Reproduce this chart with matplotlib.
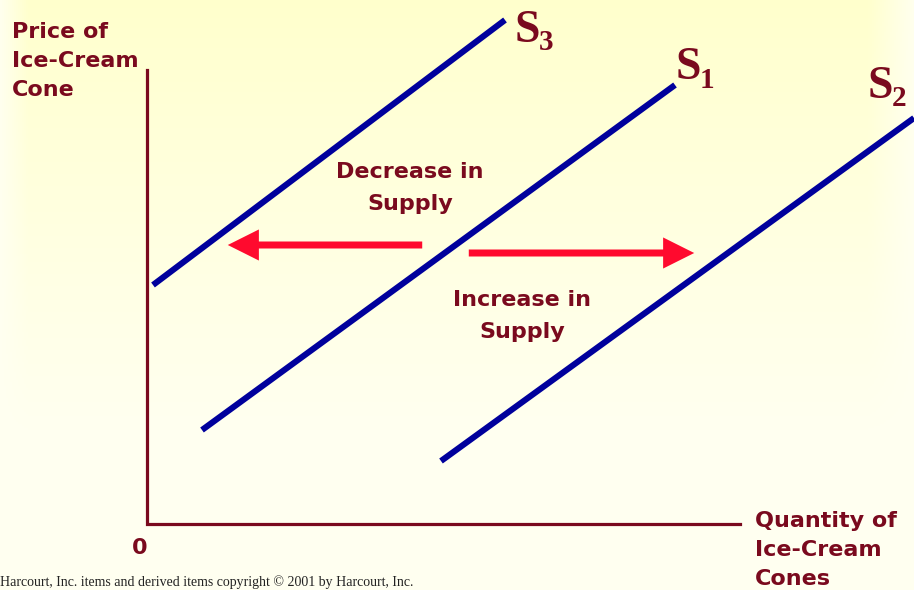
import numpy as np
import matplotlib.pyplot as plt
from matplotlib.patches import FancyArrowPatch

# supply curves: (quantity, price) end points, origin at the axis corner
s3_x = [6, 358]
s3_y = [239, 504]
s1_x = [55, 528]
s1_y = [94, 439]
s2_x = [294, 767]
s2_y = [63, 406]
curve_names = ['3', '1', '2']
label_pos = [(368, 493), (529, 456), (721, 437)]

# shift arrows (start, end) along the quantity axis
decrease_x = [278, 78]
decrease_y = 279
increase_x = [319, 550]
increase_y = 271

axis_x_end = 593
axis_y_end = 454

blue = '#00009c'
maroon = '#7a0a1e'
red = '#ff0a2e'

fig = plt.figure(figsize=(9.14, 5.90), dpi=100)
ax = fig.add_axes([0, 0, 1, 1])
ax.set_xlim(-147, 767)
ax.set_ylim(-66, 524)
ax.axis('off')

# background gradient: yellow at top, cream at bottom, lighter at the side edges
h, w = 295, 457
t = np.linspace(0, 1, h)[:, None]
u = np.linspace(0, 1, w)[None, :]
top = np.array([1.0, 1.0, 0.80])
bot = np.array([1.0, 1.0, 0.945])
k = np.clip(t / 0.75, 0, 1) ** 0.9
bg = top * (1 - k[..., None]) + bot * k[..., None]
bg = np.broadcast_to(bg, (h, w, 3)).copy()
edge = np.clip(1 - u / 0.03, 0, 1) + np.clip((u - 0.95) / 0.05, 0, 1)
bg = bg + (bot - bg) * edge[..., None] * 0.9
ax.imshow(bg, extent=[-147, 767, -66, 524], aspect='auto', zorder=0)

# axes
ax.plot([0, 0, axis_x_end], [axis_y_end, 0, 0], color=maroon, lw=2.3,
        solid_joinstyle='miter', zorder=2)

for xs, ys in [(s3_x, s3_y), (s1_x, s1_y), (s2_x, s2_y)]:
    ax.plot(xs, ys, color=blue, lw=4.4, solid_capstyle='butt', zorder=3)

for name, (lx, ly) in zip(curve_names, label_pos):
    ax.text(lx, ly, 'S', color=maroon, fontsize=33, fontweight='bold',
            family='Liberation Serif', ha='left', va='center')
    ax.text(lx + 24, ly - 12, name, color=maroon, fontsize=21, fontweight='bold',
            family='Liberation Serif', ha='left', va='center')

for xs, yy in [(decrease_x, decrease_y), (increase_x, increase_y)]:
    arr = FancyArrowPatch((xs[0], yy), (xs[1], yy),
                          arrowstyle='simple,head_length=1.6,head_width=1.6,tail_width=0.36',
                          mutation_scale=14, color=red, lw=0, zorder=4)
    ax.add_patch(arr)

txt = dict(color=maroon, fontsize=16, fontweight='bold', family='DejaVu Sans')
ax.text(-135, 502, 'Price of\nIce-Cream\nCone', ha='left', va='top',
        linespacing=1.56, **txt)
ax.text(263, 336, 'Decrease in\nSupply', ha='center', va='center',
        linespacing=1.72, **txt)
ax.text(375, 208, 'Increase in\nSupply', ha='center', va='center',
        linespacing=1.72, **txt)
ax.text(-7, -24, '0', ha='center', va='center', **txt)
ax.text(608, 13, 'Quantity of\nIce-Cream\nCones', ha='left', va='top',
        linespacing=1.56, **txt)

ax.text(-147, -58, 'Harcourt, Inc. items and derived items copyright \u00a9 2001 by Harcourt, Inc.',
        color='#222222', fontsize=10, family='Liberation Serif', ha='left', va='center')

fig.savefig('out.png', dpi=100)
